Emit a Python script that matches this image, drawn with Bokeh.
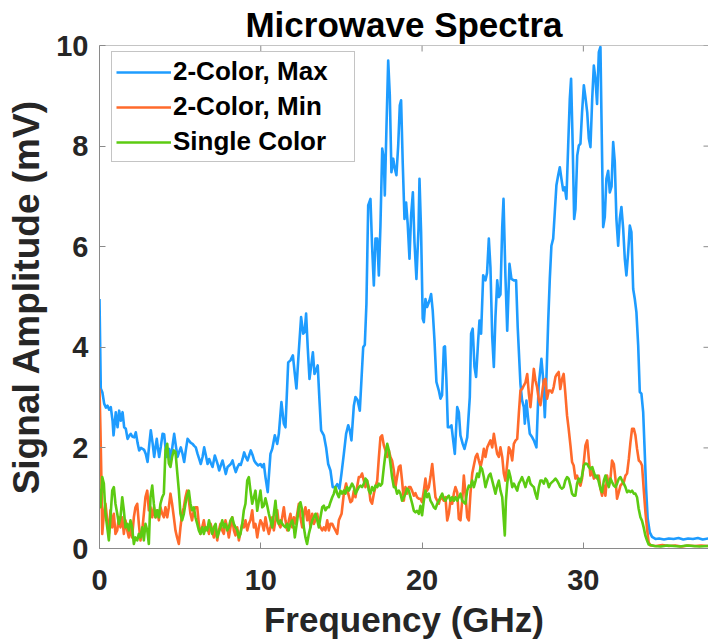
import math
from bokeh.plotting import figure
from bokeh.models import Range1d, FixedTicker, Legend, LegendItem, Span
from bokeh.embed import file_html
from bokeh.resources import INLINE

# ---- Spectra (frequency in GHz, amplitude in mV) ----
max_freq = [0.00, 0.08, 0.18, 0.29, 0.40, 0.50, 0.60, 0.70, 0.81, 0.87, 1.01, 1.12, 1.22, 1.32, 1.43, 1.53,
            1.63, 1.74, 1.84, 1.94, 2.05, 2.15, 2.25, 2.36, 2.46, 2.57, 2.67, 2.77, 2.87, 2.98, 3.08, 3.18,
            3.29, 3.39, 3.49, 3.55, 3.62, 3.70, 3.80, 3.91, 4.01, 4.15, 4.24, 4.32, 4.42, 4.53, 4.63, 4.73,
            4.84, 4.94, 5.04, 5.15, 5.25, 5.35, 5.46, 5.56, 5.66, 5.77, 5.87, 5.97, 6.08, 6.18, 6.28, 6.39,
            6.49, 6.59, 6.70, 6.80, 6.90, 7.01, 7.15, 7.25, 7.32, 7.42, 7.52, 7.63, 7.73, 7.83, 7.94, 8.04,
            8.14, 8.25, 8.35, 8.45, 8.56, 8.66, 8.76, 8.87, 8.97, 9.07, 9.18, 9.28, 9.38, 9.49, 9.59, 9.69,
            9.84, 9.98, 10.09, 10.19, 10.29, 10.43, 10.60, 10.71, 10.87, 11.02, 11.12, 11.28, 11.43, 11.53,
            11.70, 11.84, 11.99, 12.11, 12.21, 12.36, 12.50, 12.63, 12.72, 12.81, 12.91, 13.02, 13.12, 13.23,
            13.33, 13.43, 13.53, 13.64, 13.74, 13.91, 14.05, 14.18, 14.32, 14.46, 14.63, 14.74, 14.88, 15.00,
            15.15, 15.29, 15.42, 15.52, 15.62, 15.77, 15.87, 16.00, 16.14, 16.24, 16.35, 16.45, 16.55, 16.66,
            16.80, 16.90, 17.01, 17.11, 17.22, 17.32, 17.42, 17.53, 17.63, 17.69, 17.79, 17.90, 18.00, 18.10,
            18.21, 18.31, 18.41, 18.52, 18.62, 18.70, 18.80, 18.91, 19.01, 19.11, 19.22, 19.32, 19.43, 19.53,
            19.65, 19.78, 19.84, 19.94, 20.04, 20.11, 20.21, 20.31, 20.46, 20.56, 20.66, 20.77, 20.89, 21.04,
            21.14, 21.24, 21.35, 21.42, 21.51, 21.60, 21.71, 21.82, 21.93, 22.03, 22.18, 22.28, 22.38, 22.52,
            22.63, 22.80, 22.96, 23.04, 23.14, 23.25, 23.35, 23.48, 23.56, 23.66, 23.79, 23.93, 24.03, 24.14,
            24.24, 24.35, 24.45, 24.55, 24.66, 24.76, 24.86, 24.97, 25.05, 25.17, 25.28, 25.42, 25.54, 25.69,
            25.83, 25.93, 26.10, 26.20, 26.31, 26.37, 26.47, 26.57, 26.68, 26.83, 26.93, 27.09, 27.23, 27.40,
            27.50, 27.61, 27.71, 27.82, 27.92, 28.02, 28.13, 28.23, 28.33, 28.44, 28.54, 28.64, 28.75, 28.85,
            28.95, 29.06, 29.16, 29.24, 29.34, 29.43, 29.51, 29.62, 29.72, 29.82, 29.92, 30.03, 30.13, 30.24,
            30.34, 30.44, 30.55, 30.65, 30.75, 30.85, 30.96, 31.06, 31.12, 31.23, 31.33, 31.43, 31.54, 31.64,
            31.75, 31.85, 31.95, 32.05, 32.16, 32.26, 32.36, 32.47, 32.57, 32.67, 32.78, 32.88, 32.98, 33.09,
            33.19, 33.29, 33.40, 33.50, 33.60, 33.71, 33.79, 33.89, 33.99, 34.12, 34.26, 34.47, 34.70, 35.00,
            35.30, 35.60, 35.90, 36.20, 36.50, 36.80, 37.10, 37.40, 37.76]
max_amp = [4.96, 3.18, 3.10, 2.88, 2.80, 2.84, 2.76, 2.81, 2.54, 2.25, 2.71, 2.41, 2.74, 2.54, 2.71, 2.41,
           2.38, 2.18, 2.24, 2.28, 2.22, 2.21, 2.31, 2.10, 1.95, 2.00, 1.98, 1.96, 1.88, 1.72, 2.05, 2.35,
           2.10, 1.82, 2.05, 2.18, 2.00, 1.82, 2.02, 2.28, 2.27, 1.82, 1.90, 1.98, 1.75, 2.05, 2.28, 2.05,
           1.82, 1.92, 2.01, 1.88, 1.72, 1.95, 2.18, 2.14, 2.10, 2.08, 2.04, 2.01, 1.88, 1.78, 1.68, 1.82,
           2.01, 1.86, 1.68, 1.78, 1.70, 1.62, 1.85, 1.75, 1.68, 1.55, 1.65, 1.75, 1.62, 1.48, 1.62, 1.65,
           1.68, 1.75, 1.62, 1.52, 1.62, 1.68, 1.66, 1.78, 1.91, 1.82, 1.75, 1.85, 1.95, 1.86, 1.75, 1.70,
           1.65, 1.68, 1.62, 1.68, 1.42, 1.12, 1.88, 1.98, 2.25, 2.08, 2.28, 2.91, 2.48, 2.41,
           3.70, 3.74, 3.84, 3.47, 3.18, 3.94, 4.60, 4.27, 4.30, 4.67, 4.00, 3.37, 3.62, 3.90,
           3.47, 3.55, 3.64, 2.94, 2.35, 2.25, 2.01, 1.68, 1.55, 1.22, 1.22, 1.28, 1.19, 1.48,
           1.88, 2.28, 2.45, 2.35, 2.15, 2.84, 3.01, 2.95, 2.74, 3.34, 4.00, 4.05, 4.86, 6.82,
           6.95, 6.02, 5.23, 6.16, 6.16, 5.43, 6.42, 7.95, 7.75, 7.02, 8.34, 9.70, 9.01, 7.48,
           7.75, 7.55, 7.42, 8.01, 8.81, 8.91, 7.68, 6.55, 6.88, 6.45, 5.76, 6.62, 7.08, 6.09,
           5.36, 6.36, 7.35, 6.29, 4.57, 4.50, 4.96, 4.80, 4.93, 5.06, 4.73, 4.14, 3.31, 3.14,
           2.98, 3.05, 4.00, 4.02, 3.34, 2.41, 2.41, 2.45, 2.15, 1.88, 2.81, 2.71, 2.25, 2.08,
           1.98, 2.21, 3.01, 4.27, 4.37, 3.61, 3.41, 4.14, 4.53, 4.27, 5.43, 5.33, 5.48, 6.16,
           5.59, 4.20, 3.61, 4.60, 5.33, 5.00, 5.05, 6.39, 6.95, 5.40, 4.33, 5.66, 5.36, 5.33,
           5.33, 4.40, 3.27, 2.95, 2.81, 2.48, 2.94, 2.60, 2.28, 2.21, 2.15, 2.01, 3.24, 3.77,
           3.40, 2.61, 3.37, 4.50, 5.36, 6.02, 6.16, 6.69, 7.22, 7.42, 7.58, 7.35, 7.12, 7.18,
           6.95, 8.01, 8.94, 9.34, 8.01, 6.55, 6.75, 7.81, 8.01, 8.05, 8.67, 9.21, 8.97, 8.67,
           8.15, 7.98, 8.94, 9.60, 9.34, 8.84, 9.87, 9.97, 8.67, 6.39, 6.59, 7.35, 7.51, 7.08,
           7.20, 8.08, 7.68, 6.55, 6.02, 6.55, 6.79, 6.36, 5.76, 5.43, 5.89, 6.42, 6.29, 5.16,
           4.96, 4.70, 4.04, 3.11, 3.08, 2.71, 2.05, 1.19, 0.59, 0.32, 0.23, 0.19, 0.20, 0.18,
           0.20, 0.19, 0.21, 0.18, 0.20, 0.19, 0.21, 0.18, 0.20]

min_freq = [0.00, 0.06, 0.12, 0.17, 0.27, 0.37, 0.48, 0.58, 0.68, 0.79, 0.89, 0.99, 1.10, 1.20, 1.30, 1.41,
            1.51, 1.61, 1.72, 1.82, 1.92, 2.02, 2.13, 2.23, 2.34, 2.44, 2.54, 2.65, 2.75, 2.85, 2.96, 3.06,
            3.16, 3.27, 3.37, 3.47, 3.58, 3.68, 3.78, 3.89, 3.99, 4.09, 4.20, 4.30, 4.40, 4.50, 4.61, 4.71,
            4.81, 4.92, 5.02, 5.12, 5.23, 5.33, 5.43, 5.54, 5.64, 5.74, 5.85, 5.95, 6.06, 6.16, 6.26, 6.37,
            6.47, 6.57, 6.68, 6.79, 6.89, 6.99, 7.09, 7.20, 7.30, 7.40, 7.50, 7.61, 7.71, 7.81, 7.92, 8.02,
            8.12, 8.23, 8.33, 8.43, 8.54, 8.64, 8.74, 8.85, 8.95, 9.05, 9.16, 9.26, 9.36, 9.47, 9.57, 9.67,
            9.78, 9.88, 9.98, 10.09, 10.19, 10.29, 10.40, 10.50, 10.60, 10.71, 10.81, 10.91, 11.02, 11.12,
            11.22, 11.33, 11.43, 11.53, 11.64, 11.74, 11.84, 11.95, 12.05, 12.15, 12.26, 12.36, 12.46, 12.57,
            12.67, 12.77, 12.88, 12.98, 13.08, 13.19, 13.29, 13.39, 13.50, 13.60, 13.70, 13.81, 13.91, 14.01,
            14.12, 14.22, 14.32, 14.43, 14.53, 14.63, 14.74, 14.84, 15.01, 15.15, 15.29, 15.42, 15.56, 15.66,
            15.77, 15.87, 15.97, 16.08, 16.18, 16.28, 16.39, 16.49, 16.59, 16.70, 16.80, 16.90, 17.01, 17.11,
            17.22, 17.32, 17.42, 17.52, 17.63, 17.73, 17.84, 17.94, 18.04, 18.14, 18.25, 18.35, 18.45, 18.56,
            18.66, 18.76, 18.87, 18.97, 19.07, 19.18, 19.28, 19.38, 19.49, 19.59, 19.69, 19.80, 19.90, 20.00,
            20.11, 20.21, 20.31, 20.42, 20.52, 20.63, 20.73, 20.83, 20.94, 21.04, 21.14, 21.25, 21.35, 21.45,
            21.56, 21.66, 21.76, 21.87, 21.97, 22.07, 22.18, 22.28, 22.38, 22.49, 22.59, 22.69, 22.80, 22.90,
            23.00, 23.11, 23.21, 23.32, 23.42, 23.52, 23.63, 23.73, 23.83, 23.93, 24.04, 24.14, 24.24, 24.35,
            24.45, 24.55, 24.66, 24.76, 24.86, 24.97, 25.07, 25.17, 25.28, 25.38, 25.48, 25.59, 25.69, 25.80,
            25.90, 26.00, 26.10, 26.20, 26.31, 26.41, 26.52, 26.62, 26.72, 26.83, 26.93, 27.03, 27.13, 27.24,
            27.34, 27.44, 27.55, 27.65, 27.75, 27.86, 27.96, 28.06, 28.16, 28.27, 28.37, 28.47, 28.57, 28.68,
            28.78, 28.88, 28.99, 29.09, 29.20, 29.30, 29.40, 29.51, 29.61, 29.71, 29.82, 29.92, 30.03, 30.13,
            30.24, 30.34, 30.44, 30.55, 30.65, 30.75, 30.86, 30.96, 31.06, 31.16, 31.27, 31.37, 31.47, 31.58,
            31.68, 31.78, 31.89, 31.99, 32.09, 32.20, 32.30, 32.40, 32.51, 32.61, 32.71, 32.82, 32.92, 33.02,
            33.13, 33.23, 33.33, 33.44, 33.54, 33.64, 33.74, 33.85, 33.95, 34.05, 34.16, 34.50, 34.90, 35.30,
            35.70, 36.10, 36.50, 36.90, 37.30, 37.76]
min_amp = [3.18, 2.35, 1.35, 0.29, 0.69, 0.89, 0.56, 0.29, 0.76, 0.42, 0.69, 0.29, 0.36, 0.62, 0.42, 0.62,
           0.29, 0.56, 0.36, 0.22, 0.42, 0.22, 0.62, 0.82, 0.89, 0.49, 0.16, 0.36, 0.69, 1.02, 1.15, 0.76,
           0.82, 0.62, 0.82, 0.62, 0.76, 0.56, 0.82, 0.69, 0.62, 0.82, 0.62, 0.82, 1.09, 0.89, 0.62, 0.36,
           0.22, 0.09, 0.42, 0.69, 0.82, 1.02, 1.15, 0.95, 0.69, 0.56, 0.76, 0.82, 0.82, 0.49, 0.29, 0.42,
           0.56, 0.36, 0.42, 0.29, 0.49, 0.36, 0.22, 0.42, 0.16, 0.36, 0.49, 0.36, 0.29, 0.56, 0.42, 0.22,
           0.42, 0.62, 0.36, 0.26, 0.42, 0.16, 0.32, 0.49, 0.42, 0.56, 0.36, 0.49, 0.56, 0.76, 0.42, 0.49,
           0.22, 0.42, 0.56, 0.49, 0.36, 0.62, 0.42, 0.29, 0.42, 0.62, 0.36, 0.56, 0.76, 0.49,
           0.42, 0.62, 0.82, 0.56, 0.36, 0.56, 0.69, 0.42, 0.62, 0.49, 0.69, 0.89, 0.62, 0.42,
           0.69, 0.82, 0.56, 0.76, 0.42, 0.69, 0.49, 0.56, 0.69, 0.49, 0.42, 0.36, 0.42, 0.36,
           0.56, 0.36, 0.49, 0.49, 0.42, 0.36, 0.29, 0.56, 0.69, 1.09, 1.29, 1.09, 0.92, 0.95,
           1.15, 1.02, 1.22, 1.42, 1.42, 1.49, 1.35, 1.22, 1.35, 1.22, 0.95, 0.89, 1.09, 1.22,
           1.35, 1.80, 2.21, 2.25, 2.05, 1.95, 1.82, 1.95, 1.82, 1.75, 1.55, 1.22, 1.42, 1.62,
           1.65, 1.35, 0.95, 1.22, 1.09, 1.22, 1.22, 1.15, 1.05, 1.10, 1.02, 0.99, 0.99, 0.92,
           1.15, 1.39, 1.15, 1.22, 1.42, 1.68, 1.35, 1.02, 0.95, 0.89, 1.02, 0.99, 0.95, 1.02,
           0.56, 0.69, 0.95, 0.89, 1.09, 1.22, 1.12, 0.59, 0.56, 0.95, 1.45, 1.09, 0.62, 0.56,
           1.09, 1.49, 1.65, 1.82, 1.88, 1.75, 1.62, 1.78, 1.98, 1.82, 2.01, 2.08, 2.15, 2.01,
           2.28, 2.08, 1.88, 1.82, 2.01, 1.82, 1.49, 1.35, 1.68, 2.01, 1.95, 1.75, 2.08, 2.15,
           2.18, 2.68, 3.14, 3.17, 3.24, 3.30, 3.47, 3.08, 2.81, 3.20, 3.57, 3.34, 3.21, 2.95,
           2.85, 3.08, 3.34, 3.37, 2.98, 3.14, 3.14, 3.10, 3.21, 3.41, 3.47, 3.51, 3.17, 3.37,
           3.47, 3.10, 2.64, 2.38, 2.05, 1.72, 1.65, 1.39, 1.45, 1.32, 1.25, 1.39, 1.72, 2.05,
           2.15, 1.78, 1.45, 1.55, 1.39, 1.45, 1.39, 1.45, 1.19, 1.05, 1.25, 1.05, 1.45, 1.25,
           1.39, 1.75, 1.68, 1.39, 0.99, 1.12, 1.25, 1.29, 1.32, 1.45, 1.49, 1.78, 2.11, 2.38,
           2.38, 2.25, 1.98, 1.75, 1.72, 1.65, 1.19, 0.72, 0.39, 0.12, 0.06, 0.05, 0.07, 0.05,
           0.06, 0.04, 0.06, 0.05, 0.06, 0.05]

single_freq = [0.00, 0.06, 0.17, 0.27, 0.37, 0.48, 0.58, 0.68, 0.79, 0.89, 0.99, 1.10, 1.20, 1.30, 1.41, 1.51,
               1.61, 1.72, 1.82, 1.92, 2.02, 2.13, 2.23, 2.34, 2.44, 2.54, 2.65, 2.75, 2.85, 2.96, 3.06, 3.16,
               3.27, 3.37, 3.47, 3.58, 3.68, 3.78, 3.89, 3.99, 4.09, 4.20, 4.30, 4.40, 4.50, 4.61, 4.71, 4.81,
               4.92, 5.02, 5.12, 5.23, 5.33, 5.43, 5.54, 5.64, 5.74, 5.85, 5.95, 6.06, 6.16, 6.26, 6.37, 6.47,
               6.57, 6.68, 6.79, 6.89, 6.99, 7.09, 7.20, 7.30, 7.40, 7.50, 7.61, 7.71, 7.81, 7.92, 8.02, 8.12,
               8.23, 8.33, 8.43, 8.54, 8.64, 8.74, 8.85, 8.95, 9.05, 9.16, 9.26, 9.36, 9.47, 9.57, 9.67, 9.78,
               9.88, 9.98, 10.09, 10.19, 10.29, 10.40, 10.50, 10.60, 10.71, 10.81, 10.91, 11.02, 11.12, 11.22,
               11.33, 11.43, 11.53, 11.64, 11.73, 11.84, 11.95, 12.05, 12.11, 12.26, 12.36, 12.46, 12.57, 12.67,
               12.77, 12.87, 12.98, 13.08, 13.19, 13.29, 13.39, 13.50, 13.60, 13.70, 13.81, 13.91, 14.01, 14.12,
               14.22, 14.32, 14.43, 14.53, 14.63, 14.74, 14.84, 14.94, 15.04, 15.15, 15.25, 15.35, 15.46, 15.56,
               15.66, 15.77, 15.87, 15.97, 16.08, 16.18, 16.28, 16.39, 16.49, 16.59, 16.70, 16.80, 16.90, 17.01,
               17.11, 17.22, 17.32, 17.42, 17.52, 17.63, 17.73, 17.84, 17.94, 18.04, 18.14, 18.25, 18.35, 18.45,
               18.56, 18.66, 18.76, 18.87, 18.97, 19.07, 19.18, 19.28, 19.39, 19.49, 19.59, 19.69, 19.80, 19.90,
               20.00, 20.11, 20.21, 20.31, 20.42, 20.52, 20.63, 20.73, 20.83, 20.94, 21.04, 21.14, 21.25, 21.35,
               21.45, 21.56, 21.66, 21.76, 21.87, 21.97, 22.07, 22.18, 22.28, 22.38, 22.49, 22.59, 22.69, 22.80,
               22.90, 23.00, 23.11, 23.21, 23.32, 23.42, 23.52, 23.63, 23.72, 23.83, 23.93, 24.04, 24.14, 24.24,
               24.35, 24.45, 24.55, 24.66, 24.76, 24.86, 24.97, 25.07, 25.13, 25.20, 25.28, 25.38, 25.48, 25.59,
               25.69, 25.80, 25.90, 26.00, 26.10, 26.20, 26.31, 26.41, 26.52, 26.62, 26.72, 26.83, 26.93, 27.03,
               27.13, 27.24, 27.34, 27.44, 27.55, 27.65, 27.75, 27.86, 27.96, 28.06, 28.16, 28.27, 28.37, 28.47,
               28.57, 28.68, 28.78, 28.88, 28.99, 29.09, 29.20, 29.30, 29.40, 29.51, 29.61, 29.71, 29.82, 29.92,
               30.03, 30.13, 30.24, 30.34, 30.44, 30.55, 30.65, 30.75, 30.86, 30.96, 31.06, 31.16, 31.27, 31.37,
               31.47, 31.58, 31.68, 31.78, 31.89, 31.99, 32.09, 32.20, 32.30, 32.40, 32.51, 32.61, 32.71, 32.82,
               32.92, 33.02, 33.13, 33.23, 33.33, 33.43, 33.54, 33.64, 33.74, 33.85, 33.95, 34.05, 34.40, 34.80,
               35.20, 35.60, 36.00, 36.40, 36.80, 37.20, 37.76]
single_amp = [1.19, 0.82, 1.42, 1.29, 0.69, 0.42, 0.16, 0.62, 1.15, 1.22, 0.89, 0.69, 0.49, 0.62, 1.02, 0.76,
              0.42, 0.49, 0.36, 0.56, 0.42, 0.09, 0.22, 0.16, 0.29, 0.22, 0.42, 0.16, 0.49, 0.36, 0.09, 1.02,
              1.25, 0.89, 0.62, 0.76, 0.62, 0.89, 1.02, 1.09, 1.95, 2.08, 1.69, 1.62, 1.82, 1.95, 1.92, 1.55,
              1.15, 0.69, 0.56, 0.69, 0.89, 1.05, 1.15, 0.89, 0.76, 0.82, 0.62, 0.49, 0.36, 0.29, 0.42, 0.29,
              0.42, 0.36, 0.56, 0.42, 0.29, 0.42, 0.49, 0.22, 0.32, 0.42, 0.56, 0.42, 0.49, 0.36, 0.42, 0.56,
              0.62, 0.49, 0.42, 0.36, 0.22, 0.29, 0.49, 0.76, 0.89, 1.35, 1.42, 1.15, 0.89, 1.02, 1.15, 0.75,
              0.95, 1.15, 0.82, 0.85, 1.00, 0.85, 0.69, 0.56, 0.42, 0.69, 0.95, 0.56, 0.49, 0.56,
              0.49, 0.45, 0.42, 0.49, 0.36, 0.49, 0.56, 0.42, 0.22, 0.56, 0.82, 0.92, 0.76, 0.42,
              0.22, 0.09, 0.29, 0.42, 0.56, 0.62, 0.69, 0.56, 0.42, 0.62, 0.82, 0.85, 0.76, 0.82,
              0.82, 0.92, 1.02, 1.09, 1.22, 1.09, 1.02, 1.15, 1.09, 1.15, 1.09, 1.22, 1.15, 1.22,
              1.29, 1.22, 1.09, 1.15, 1.22, 1.25, 1.22, 1.29, 1.39, 1.35, 1.15, 1.09, 1.22, 1.15,
              1.25, 1.22, 1.29, 1.25, 1.29, 1.62, 1.88, 2.08, 1.95, 1.69, 1.42, 1.22, 1.22, 1.09,
              1.15, 1.09, 0.95, 1.02, 1.09, 1.19, 1.15, 1.02, 0.89, 0.75, 0.72, 0.75, 0.69, 0.85,
              0.66, 0.95, 1.15, 1.02, 1.09, 0.95, 0.89, 0.82, 0.79, 0.89, 0.95, 1.02, 1.09, 0.99,
              0.95, 1.02, 1.05, 0.95, 1.02, 0.95, 1.02, 0.95, 1.02, 1.09, 0.95, 0.92, 0.89, 1.15,
              1.25, 1.22, 1.35, 1.22, 1.35, 1.49, 1.42, 1.62, 1.58, 1.42, 1.22, 1.35, 1.45, 1.49,
              1.35, 1.22, 1.09, 1.25, 1.35, 1.15, 1.02, 0.55, 0.26, 0.95, 1.29, 1.55, 1.42, 1.22,
              1.29, 1.22, 1.15, 1.29, 1.35, 1.42, 1.32, 1.22, 1.35, 1.42, 1.29, 1.25, 1.22, 1.09,
              0.99, 1.22, 1.35, 1.35, 1.29, 1.39, 1.35, 1.22, 1.29, 1.32, 1.35, 1.39, 1.35, 1.29,
              1.22, 1.19, 1.22, 1.35, 1.42, 1.39, 1.25, 1.09, 1.05, 1.05, 1.29, 1.39, 1.32, 1.45,
              1.65, 1.69, 1.68, 1.62, 1.58, 1.62, 1.52, 1.42, 1.45, 1.32, 1.19, 1.12, 1.35, 1.45,
              1.32, 1.22, 1.39, 1.32, 1.25, 1.22, 1.29, 1.39, 1.42, 1.35, 1.29, 1.22, 1.12, 1.15,
              1.12, 1.15, 1.09, 1.09, 1.02, 0.79, 0.62, 0.55, 0.42, 0.25, 0.16, 0.08, 0.05, 0.04,
              0.06, 0.05, 0.04, 0.06, 0.05, 0.04, 0.05]

x_ticks = [0, 10, 20, 30]
y_ticks = [0, 2, 4, 6, 8, 10]
series_labels = ["2-Color, Max", "2-Color, Min", "Single Color"]
series_colors = ["#1E9CFF", "#FF6A2B", "#5CCB12"]

X_END = 37.76
Y_END = 10
FONT = "Liberation Sans"
AXIS_GRAY = "#8a8a8a"
TEXT_DARK = "#262626"

p = figure(width=708, height=642, output_backend="svg", toolbar_location=None,
           x_range=Range1d(0, X_END), y_range=Range1d(0, Y_END),
           min_border_left=99, min_border_right=0, min_border_top=45, min_border_bottom=94)
p.outline_line_color = None
p.xgrid.visible = False
p.ygrid.visible = False
p.background_fill_color = "white"
p.border_fill_color = "white"

p.title.text = "Microwave Spectra"
p.title.align = "center"
p.title.text_font = FONT
p.title.text_font_style = "bold"
p.title.text_font_size = "35px"
p.title.text_color = "black"
p.title.standoff = 4


def style_axis(ax, ticks):
    ax.ticker = FixedTicker(ticks=ticks)
    ax.axis_line_color = AXIS_GRAY
    ax.axis_line_width = 1
    ax.major_tick_line_color = AXIS_GRAY
    ax.major_tick_in = 6
    ax.major_tick_out = 0
    ax.minor_tick_line_color = None
    ax.major_label_text_font = FONT
    ax.major_label_text_font_style = "bold"
    ax.major_label_text_font_size = "29px"
    ax.major_label_text_color = TEXT_DARK
    ax.axis_label_text_font = FONT
    ax.axis_label_text_font_style = "bold"
    ax.axis_label_text_color = TEXT_DARK


xa = p.xaxis[0]
style_axis(xa, x_ticks)
xa.axis_label = "Frequency (GHz)"
xa.axis_label_text_font_size = "35px"
xa.major_label_standoff = 21
xa.axis_label_standoff = 7

ya = p.yaxis[0]
style_axis(ya, y_ticks)
ya.axis_label = "Signal Amplitude (mV)"
ya.axis_label_text_font_size = "37px"
ya.major_label_standoff = 11
ya.axis_label_standoff = 6

# box edge along the top, with inward tick marks on the top and right sides
p.add_layout(Span(location=Y_END, dimension="width", line_color=AXIS_GRAY, line_width=1))
p.ray(x=x_ticks, y=[Y_END] * len(x_ticks), length=6, length_units="screen",
      angle=-math.pi / 2, line_color=AXIS_GRAY, line_width=1)
p.ray(x=[X_END] * len(y_ticks), y=y_ticks, length=5, length_units="screen",
      angle=math.pi, line_color=AXIS_GRAY, line_width=1)

renderers = []
for fx, fy, col in [(max_freq, max_amp, series_colors[0]),
                    (min_freq, min_amp, series_colors[1]),
                    (single_freq, single_amp, series_colors[2])]:
    r = p.line(fx, fy, line_color=col, line_width=2.6, line_join="round")
    renderers.append(r)

legend = Legend(items=[LegendItem(label=lab, renderers=[r]) for lab, r in zip(series_labels, renderers)],
                location=(12, 386))
legend.label_text_font = FONT
legend.label_text_font_style = "bold"
legend.label_text_font_size = "26px"
legend.label_text_color = "black"
legend.label_height = 30
legend.label_width = 177
legend.glyph_height = 30
legend.glyph_width = 55
legend.label_standoff = 2
legend.spacing = 4
legend.padding = 4
legend.margin = 0
legend.border_line_color = AXIS_GRAY
legend.border_line_width = 1
legend.background_fill_color = "white"
legend.background_fill_alpha = 1
p.add_layout(legend)

open("out.html", "w").write(file_html(p, INLINE))
